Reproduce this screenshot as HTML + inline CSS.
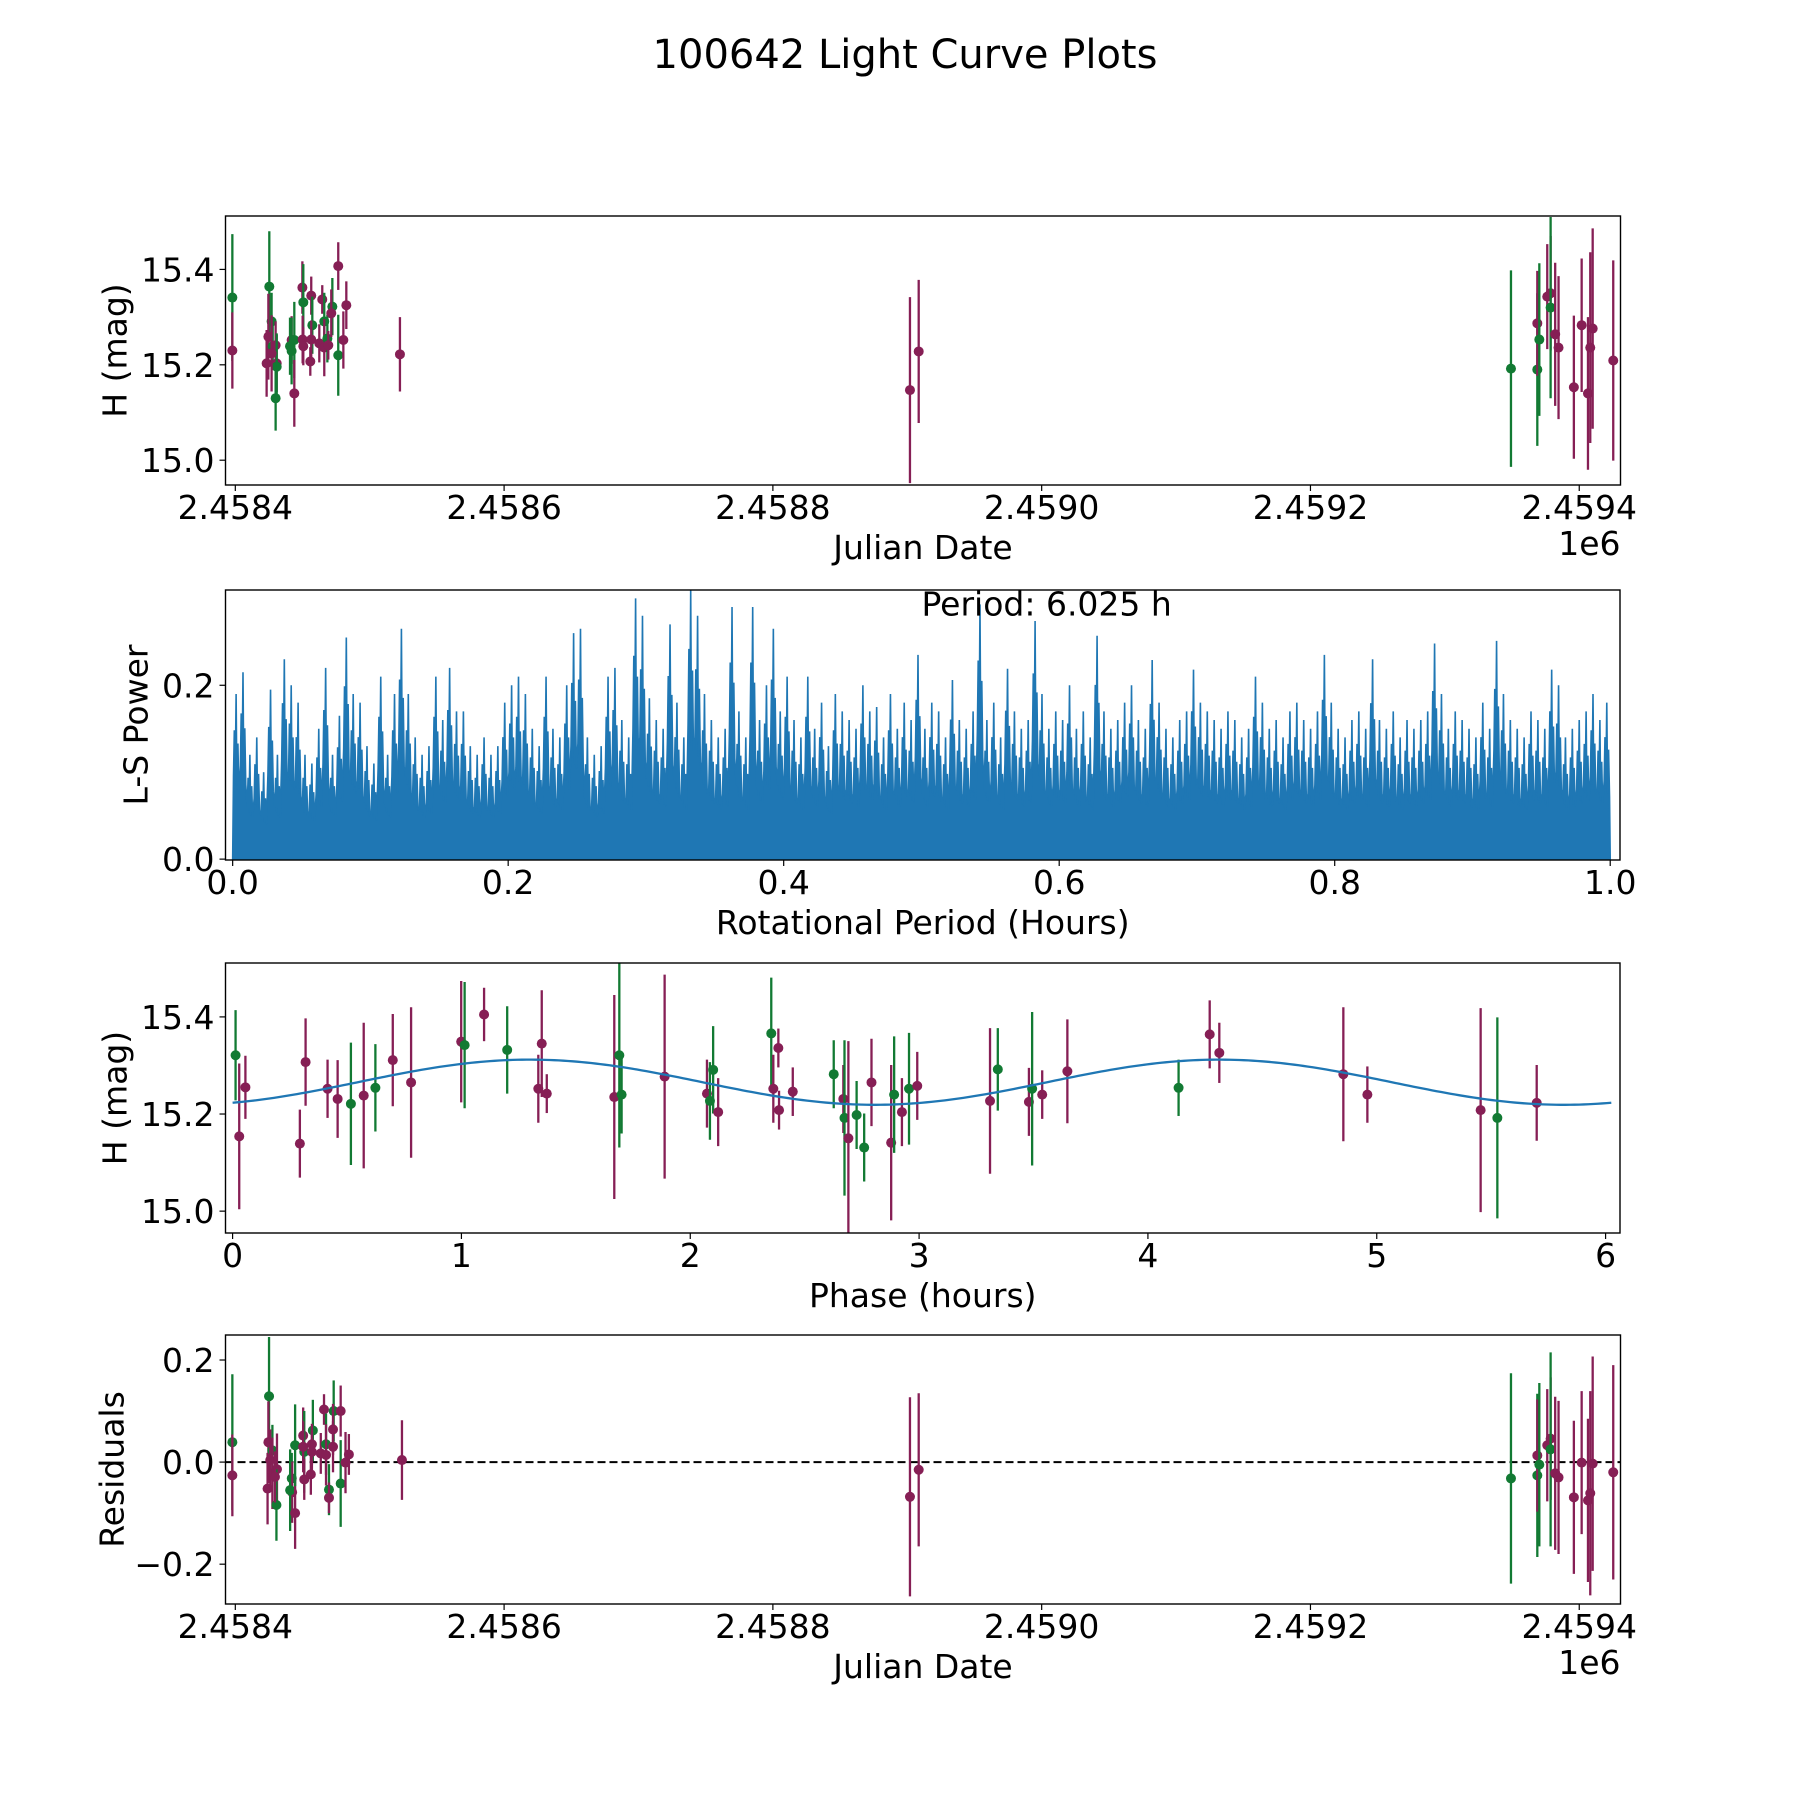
<!DOCTYPE html>
<html><head><meta charset="utf-8"><style>
html,body{margin:0;padding:0;background:#fff;}
svg{display:block;font-family:"DejaVu Sans","Liberation Sans",sans-serif;}
</style></head><body>
<svg id="fig" width="1800" height="1800" viewBox="0 0 1800 1800" xmlns="http://www.w3.org/2000/svg">
<rect x="0" y="0" width="1800" height="1800" fill="#fff"/>
<text x="905" y="68" font-size="40" text-anchor="middle">100642 Light Curve Plots</text>
</svg>
<script>
// ---------- data: panel 1 (H mag vs JD, days offset from 2458400) ----------
const obsDays = [-2.2,-2.2,25.3,23.3,27,24.6,27.8,30,30.8,30.8,30,27,41.9,40.7,41.9,43.9,43.9,49.9,50.6,50.1,50.6,56.5,57.3,55.8,56.5,62.5,64.7,66.2,66.2,68.5,69.2,72.2,71.4,76.6,76.6,80.4,82.6,122.5,502,508.5,949.2,968.8,968.8,970.3,976.2,978.7,978.7,982.1,984.6,996,1001.8,1006.5,1008.2,1010,1025.3];
const obsMag = [15.341,15.230,15.364,15.203,15.291,15.259,15.239,15.241,15.203,15.196,15.130,15.224,15.252,15.239,15.229,15.252,15.140,15.362,15.331,15.253,15.239,15.345,15.283,15.207,15.253,15.245,15.337,15.291,15.236,15.255,15.241,15.322,15.308,15.220,15.407,15.252,15.325,15.222,15.147,15.228,15.192,15.190,15.287,15.253,15.343,15.350,15.320,15.264,15.236,15.153,15.283,15.140,15.236,15.276,15.209];
const obsErr = [0.133,0.08,0.116,0.07,0.06,0.09,0.05,0.05,0.06,0.07,0.068,0.08,0.05,0.06,0.07,0.08,0.07,0.055,0.08,0.05,0.04,0.04,0.06,0.03,0.04,0.04,0.03,0.06,0.06,0.05,0.03,0.06,0.05,0.085,0.05,0.06,0.05,0.078,0.195,0.15,0.206,0.16,0.11,0.16,0.11,0.12,0.19,0.15,0.15,0.15,0.14,0.16,0.2,0.21,0.21];
const obsBand = ['g','m','g','m','g','m','g','m','m','g','g','m','m','g','g','g','m','m','g','m','m','m','g','m','m','m','m','g','m','g','m','g','m','g','m','m','m','m','m','m','g','g','m','g','m','m','g','m','m','m','m','m','m','m','m'];
const jdTicks = [0,200,400,600,800,1000];
const jdTickLabels = ['2.4584','2.4586','2.4588','2.4590','2.4592','2.4594'];
const magTicks = [15.0,15.2,15.4];
const magTickLabels = ['15.0','15.2','15.4'];

// ---------- data: panel 2 (periodogram) ----------
const periodPower = [0.19,0.215,0.12,0.14,0.10,0.195,0.12,0.23,0.20,0.18,0.12,0.11,0.15,0.22,0.12,0.165,0.255,0.19,0.18,0.13,
0.11,0.21,0.12,0.19,0.265,0.19,0.14,0.12,0.13,0.21,0.16,0.22,0.17,0.17,0.13,0.12,0.14,0.12,0.13,0.18,
0.20,0.21,0.19,0.15,0.13,0.21,0.15,0.14,0.20,0.26,0.265,0.14,0.12,0.13,0.21,0.22,0.16,0.14,0.30,0.28,
0.185,0.16,0.15,0.27,0.18,0.14,0.31,0.28,0.19,0.16,0.14,0.15,0.29,0.17,0.14,0.29,0.16,0.20,0.265,0.17,
0.21,0.16,0.14,0.21,0.15,0.18,0.13,0.19,0.17,0.16,0.15,0.20,0.17,0.175,0.14,0.19,0.15,0.18,0.16,0.235,
0.15,0.18,0.17,0.14,0.206,0.16,0.15,0.17,0.293,0.16,0.18,0.14,0.219,0.17,0.15,0.16,0.274,0.19,0.15,0.17,
0.16,0.20,0.15,0.17,0.14,0.257,0.17,0.15,0.16,0.18,0.20,0.16,0.15,0.229,0.18,0.15,0.14,0.16,0.17,0.218,
0.18,0.17,0.16,0.15,0.17,0.16,0.14,0.15,0.21,0.18,0.15,0.16,0.14,0.17,0.18,0.16,0.15,0.17,0.235,0.18,
0.15,0.14,0.16,0.17,0.15,0.23,0.16,0.15,0.17,0.14,0.16,0.15,0.16,0.17,0.248,0.19,0.15,0.17,0.16,0.15,
0.14,0.18,0.15,0.251,0.19,0.16,0.15,0.14,0.17,0.16,0.15,0.218,0.2,0.14,0.15,0.16,0.17,0.19,0.16,0.18];
const periodRange = [0.0, 1.0];
const periodTicks = [0.0,0.2,0.4,0.6,0.8,1.0];
const periodTickLabels = ['0.0','0.2','0.4','0.6','0.8','1.0'];
const powerTicks = [0.0,0.2];
const powerTickLabels = ['0.0','0.2'];
const bestPeriodLabel = 'Period: 6.025 h';

// ---------- data: panel 3 (phase-folded) ----------
const phaseVals = [0.013,0.029,0.056,0.294,0.319,0.415,0.459,0.517,0.573,0.624,0.7,0.78,0.999,1.014,1.099,1.2,1.336,1.351,1.373,1.668,1.69,1.7,1.888,2.073,2.086,2.1,2.122,2.354,2.363,2.385,2.388,2.448,2.627,2.669,2.674,2.691,2.727,2.76,2.792,2.878,2.891,2.925,2.956,2.992,3.31,3.344,3.48,3.494,3.538,3.648,4.134,4.27,4.312,4.854,4.959,5.454,5.527,5.699];
const phaseMag = [15.321,15.154,15.255,15.139,15.307,15.252,15.231,15.221,15.238,15.254,15.311,15.265,15.349,15.342,15.405,15.332,15.252,15.345,15.242,15.235,15.321,15.24,15.277,15.242,15.227,15.291,15.204,15.366,15.252,15.336,15.208,15.246,15.282,15.231,15.192,15.15,15.198,15.131,15.265,15.141,15.24,15.204,15.252,15.258,15.227,15.292,15.225,15.252,15.24,15.288,15.254,15.364,15.326,15.282,15.24,15.208,15.192,15.223];
const phaseErr = [0.093,0.15,0.065,0.07,0.09,0.06,0.08,0.126,0.15,0.09,0.095,0.155,0.125,0.13,0.055,0.09,0.07,0.11,0.04,0.21,0.19,0.08,0.21,0.07,0.08,0.09,0.07,0.115,0.07,0.04,0.04,0.05,0.07,0.07,0.16,0.2,0.07,0.07,0.09,0.16,0.12,0.07,0.115,0.07,0.15,0.085,0.07,0.158,0.05,0.107,0.058,0.07,0.062,0.138,0.058,0.21,0.207,0.078];
const phaseBand = ['g','m','m','m','m','m','m','g','m','g','m','m','m','g','m','g','m','m','m','m','g','g','m','m','g','g','m','g','m','m','m','m','g','m','g','m','g','g','m','m','g','m','g','m','m','g','m','g','m','m','g','m','m','m','m','m','g','m'];
const fitParams = [15.2655, 0.0465, 3.0125, 0.547]; // mean, amplitude, half-period (h), phase offset
const fitRange = [0.0, 6.025];
const phaseTicks = [0,1,2,3,4,5,6];
const phaseTickLabels = ['0','1','2','3','4','5','6'];

// ---------- data: panel 4 (residuals) ----------
const resDays = [-2.2,-2.2,25.1,24.6,24,27.6,27.6,26,31,30.6,29.5,42,42.3,40.8,44.5,44.5,50.5,51.3,50.5,51.3,57.7,57,56.2,57,63.6,66,67.5,67.5,69.7,69.7,73.2,72.7,72.7,78.4,78.4,82,84.5,124,502,508.5,949.2,968.8,968.8,970.3,976.2,978.7,978.7,982.1,984.6,996,1001.8,1006.5,1008.2,1010,1025.3];
const resVals = [0.039,-0.026,0.129,0.039,-0.052,0.023,-0.022,0.004,-0.014,-0.084,-0.029,-0.032,-0.059,-0.055,-0.1,0.033,0.052,0.02,0.03,-0.034,0.062,0.035,-0.024,0.02,0.017,0.103,0.035,0.014,-0.054,-0.07,0.1,0.064,0.03,-0.042,0.1,-0.001,0.015,0.004,-0.068,-0.015,-0.032,-0.026,0.013,-0.005,0.033,0.046,0.025,-0.022,-0.03,-0.069,-0.001,-0.075,-0.061,-0.003,-0.02];
const resErr = [0.133,0.08,0.116,0.08,0.07,0.05,0.07,0.06,0.07,0.07,0.05,0.05,0.06,0.08,0.07,0.08,0.055,0.08,0.05,0.04,0.06,0.04,0.04,0.04,0.04,0.03,0.06,0.06,0.05,0.03,0.06,0.05,0.05,0.085,0.05,0.06,0.04,0.078,0.195,0.15,0.206,0.16,0.11,0.16,0.11,0.12,0.19,0.15,0.15,0.15,0.14,0.16,0.2,0.21,0.21];
const resBand = ['g','m','g','m','m','g','m','m','m','g','m','g','m','g','m','g','m','g','m','m','g','m','m','m','m','m','g','m','g','m','g','m','m','g','m','m','m','m','m','m','g','g','m','g','m','m','g','m','m','m','m','m','m','m','m'];
const resTicks = [-0.2,0.0,0.2];
const resTickLabels = ['\u22120.2','0.0','0.2'];

// ---------- rendering ----------
const NS = 'http://www.w3.org/2000/svg';
const svg = document.getElementById('fig');
const COL = {g:'#127a33', m:'#861f55'};
const FS = 33;
function mk(tag, parent, attrs){
  const el = document.createElementNS(NS, tag);
  for (const k in attrs) el.setAttribute(k, attrs[k]);
  parent.appendChild(el);
  return el;
}
function axes(name, px0, px1, py0, py1, xmin, xmax, ymin, ymax){
  const g = mk('g', svg, {});
  
  
  return {g, px0, px1, py0, py1,
    sx: v => px0 + (v - xmin) / (xmax - xmin) * (px1 - px0),
    sy: v => py1 - (v - ymin) / (ymax - ymin) * (py1 - py0)};
}
function frame(ax, xt, xtl, yt, ytl, xlabel, ylabel, ylabX, offsetText){
  const fr = mk('rect', ax.g, {x:ax.px0, y:ax.py0, width:ax.px1-ax.px0, height:ax.py1-ax.py0, fill:'none', stroke:'#000', 'stroke-width':1.4});
  
  
  xt.forEach((v, i) => {
    const x = ax.sx(v);
    mk('line', ax.g, {x1:x, x2:x, y1:ax.py1, y2:ax.py1+6, stroke:'#000', 'stroke-width':1.2});
    const t = mk('text', ax.g, {x:x, y:ax.py1+34, 'font-size':FS, 'text-anchor':'middle'});
    t.textContent = xtl[i];
    
    
  });
  yt.forEach((v, i) => {
    const y = ax.sy(v);
    mk('line', ax.g, {x1:ax.px0-6, x2:ax.px0, y1:y, y2:y, stroke:'#000', 'stroke-width':1.2});
    const t = mk('text', ax.g, {x:ax.px0-11, y:y+12, 'font-size':FS, 'text-anchor':'end'});
    t.textContent = ytl[i];
    
    
  });
  const xl = mk('text', ax.g, {x:(ax.px0+ax.px1)/2, y:ax.py1+74, 'font-size':FS, 'text-anchor':'middle'});
  xl.textContent = xlabel;
  
  
  const cy = (ax.py0+ax.py1)/2;
  const yl = mk('text', ax.g, {x:ylabX, y:cy, 'font-size':FS, 'text-anchor':'middle', 'dominant-baseline':'central', transform:'rotate(-90 '+ylabX+' '+cy+')'});
  yl.textContent = ylabel;
  
  
  if (offsetText){
    const o = mk('text', ax.g, {x:ax.px1, y:ax.py1+70, 'font-size':FS, 'text-anchor':'end'});
    o.textContent = offsetText;
    
    
  }
}
function errPoints(ax, xs, ys, es, bands){
  const cp = mk('clipPath', svg, {id:'clip'+ax.py0});
  mk('rect', cp, {x:ax.px0, y:ax.py0, width:ax.px1-ax.px0, height:ax.py1-ax.py0});
  const g = mk('g', ax.g, {'clip-path':'url(#clip'+ax.py0+')'});
  xs.forEach((v, i) => {
    const c = COL[bands[i]];
    const x = ax.sx(v);
    const eb = mk('line', g, {x1:x, x2:x, y1:ax.sy(ys[i]-es[i]), y2:ax.sy(ys[i]+es[i]), stroke:c, 'stroke-width':2.3});
    
    
    const p = mk('circle', g, {cx:x, cy:ax.sy(ys[i]), r:5, fill:c});
    
    
  });
}

// Panel 1
const ax1 = axes('light-curve-panel', 225.5, 1620.5, 216, 485, -7.3, 1030.7, 14.948, 15.512);
errPoints(ax1, obsDays, obsMag, obsErr, obsBand);
frame(ax1, jdTicks, jdTickLabels, magTicks, magTickLabels, 'Julian Date', 'H (mag)', 115, '1e6');

// Panel 2
const ax2 = axes('periodogram-panel', 225.5, 1620, 590, 860, -0.0052, 1.0071, -0.001, 0.3096);
(function(){
  const n = periodPower.length;
  const step = (periodRange[1]-periodRange[0]) / n;
  let d = 'M' + ax2.sx(periodRange[0]) + ' ' + ax2.sy(0);
  for (let i = 0; i < n; i++){
    const x = periodRange[0] + (i + 0.5) * step;
    d += ' L' + ax2.sx(x - step*0.38) + ' ' + ax2.sy(periodPower[i]*0.5);
    d += ' L' + ax2.sx(x - step*0.26) + ' ' + ax2.sy(periodPower[i]*0.78);
    d += ' L' + ax2.sx(x - step*0.14) + ' ' + ax2.sy(periodPower[i]*0.45);
    d += ' L' + ax2.sx(x) + ' ' + ax2.sy(periodPower[i]);
    d += ' L' + ax2.sx(x + step*0.12) + ' ' + ax2.sy(periodPower[i]*0.42);
    d += ' L' + ax2.sx(x + step*0.26) + ' ' + ax2.sy(periodPower[i]*0.7);
    d += ' L' + ax2.sx(x + step*0.4) + ' ' + ax2.sy(periodPower[i]*0.4);
  }
  d += ' L' + ax2.sx(periodRange[1]) + ' ' + ax2.sy(0) + ' Z';
  const p = mk('path', ax2.g, {d:d, fill:'#1f77b4', stroke:'#1f77b4', 'stroke-width':1.6, 'stroke-linejoin':'miter'});
  
  
  const t = mk('text', ax2.g, {x:ax2.sx(0.5), y:ax2.sy(0.28), 'font-size':FS});
  t.textContent = bestPeriodLabel;
  
  
})();
frame(ax2, periodTicks, periodTickLabels, powerTicks, powerTickLabels, 'Rotational Period (Hours)', 'L-S Power', 136, null);

// Panel 3
const ax3 = axes('phase-folded-panel', 225.5, 1620, 963, 1233, -0.031, 6.063, 14.955, 15.511);
errPoints(ax3, phaseVals, phaseMag, phaseErr, phaseBand);
(function(){
  let d = '';
  const N = 300;
  for (let i = 0; i <= N; i++){
    const p = fitRange[0] + (fitRange[1]-fitRange[0]) * i / N;
    const m = fitParams[0] + fitParams[1] * Math.sin(2*Math.PI*(p - fitParams[3]) / fitParams[2]);
    d += (i ? ' L' : 'M') + ax3.sx(p) + ' ' + ax3.sy(m);
  }
  const c = mk('path', ax3.g, {d:d, fill:'none', stroke:'#1f77b4', 'stroke-width':2.3});
  
  
})();
frame(ax3, phaseTicks, phaseTickLabels, magTicks, magTickLabels, 'Phase (hours)', 'H (mag)', 115, null);

// Panel 4
const ax4 = axes('residuals-panel', 225.5, 1620.5, 1335, 1604, -7.3, 1030.7, -0.278, 0.249);
const zl = mk('line', ax4.g, {x1:ax4.px0, x2:ax4.px1, y1:ax4.sy(0), y2:ax4.sy(0), stroke:'#000', 'stroke-width':2, 'stroke-dasharray':'8,4'});


errPoints(ax4, resDays, resVals, resErr, resBand);
frame(ax4, jdTicks, jdTickLabels, resTicks, resTickLabels, 'Julian Date', 'Residuals', 112, '1e6');
</script>
</body></html>
